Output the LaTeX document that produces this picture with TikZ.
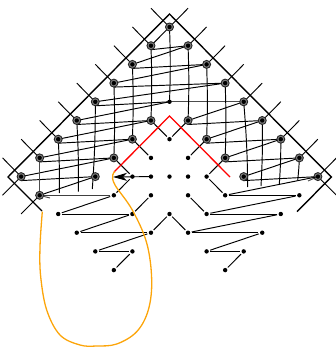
\documentclass[tikz,border=0pt]{standalone}
\usetikzlibrary{arrows.meta,backgrounds}
\definecolor{loopor}{RGB}{252,165,10}
\tikzset{
  x=1pt,y=1pt,
  plaindot/.style={circle,fill=black,inner sep=0pt,minimum size=4.4pt,outer sep=1.6pt},
  ringdot/.style={circle,draw=black!85,fill=black!50,line width=0.9pt,inner sep=0pt,minimum size=8pt,outer sep=0pt},
  strand/.style={line width=0.95pt,black},
  frame/.style={line width=1.4pt,black},
  spike/.style={line width=0.9pt,black},
  warp/.style={line width=0.95pt,black,bend left=2},
  redline/.style={line width=1.3pt,red},
  orangeline/.style={line width=1.3pt,loopor}
}
\newcommand{\gx}[1]{169.5+18.55*(#1)}
\newcommand{\gy}[1]{-27-18.7*(#1)}
\begin{document}
\begin{tikzpicture}
\useasboundingbox (0,0) rectangle (336,-347);
% spike ends on a lattice
\foreach \a/\b in {-1/-1,-2/0,-3/1,-4/2,-5/3,-6/4,-7/5,-8/6,-9/7,-9/9,-8/10,1/-1,2/0,3/1,4/2,5/3,6/4,7/5,8/6,9/7,9/9}
  {\coordinate (s\a x\b) at ({\gx{\a}},{\gy{\b}});}
% ringed crossings
\foreach \a/\b in {0/0,-1/1,-2/2,-3/3,-4/4,-5/5,-6/6,-7/7,-8/8,-7/9,1/1,2/2,3/3,4/4,5/5,6/6,7/7,8/8,-1/5,-2/6,-3/7,-4/8,1/5,2/6,3/7,4/8}
  {\node[ringdot] (p\a x\b) at ({\gx{\a}},{\gy{\b}}) {};
   \fill (p\a x\b.center) circle (2.2);}
% centre crossing of the fifth row
\node[plaindot] (p0x4) at ({\gx{0}},{\gy{4}}) {};
% plain dots
\foreach \a/\b in {0/6,-1/7,1/7,-2/8,-1/8,0/8,1/8,2/8,-3/9,-1/9,1/9,3/9,7/9,-6/10,-2/10,0/10,2/10,6/10,-5/11,-1/11,1/11,5/11,-4/12,-2/12,2/12,4/12,-3/13,3/13}
  {\node[plaindot] (p\a x\b) at ({\gx{\a}},{\gy{\b}}) {};}
% frame
\coordinate (apex) at (169.5,-14);
\coordinate (lc) at (8,-177);
\coordinate (rc) at (331.3,-177);
\coordinate (le) at (42,-211);
\coordinate (re) at (297,-211.7);
\draw[frame,line join=miter] (le) -- (lc) -- (apex) -- (rc) -- (re);
\begin{scope}[on background layer]
% spikes
\foreach \a/\b/\c/\d in {0/0/-1/-1,-1/1/-2/0,-2/2/-3/1,-3/3/-4/2,-4/4/-5/3,-5/5/-6/4,-6/6/-7/5,-7/7/-8/6,-8/8/-9/7,-8/8/-9/9,-7/9/-8/10,0/0/1/-1,1/1/2/0,2/2/3/1,3/3/4/2,4/4/5/3,5/5/6/4,6/6/7/5,7/7/8/6,8/8/9/7,8/8/9/9}
  {\draw[spike] (p\a x\b.center) -- (s\c x\d);}
% sloped weft lines, ending on centres
\foreach \a/\b/\c/\d in {-1/1/0/0,-2/2/1/1,-3/3/2/2,-4/4/3/3,-5/5/0/4,-6/6/-1/5,-7/7/-2/6,-8/8/-3/7,-7/9/-4/8,1/5/4/4,2/6/5/5,3/7/6/6,4/8/7/7}
  {\draw[strand] (p\a x\b.center) -- (p\c x\d.center);}
% nearly level weft lines: leave the left ring low, reach the right ring's centre
\foreach \a/\b/\c/\d in {-1/1/1/1,-2/2/2/2,-3/3/3/3,-4/4/0/4,-5/5/-1/5,-6/6/-2/6,-7/7/-3/7,-8/8/-4/8,1/5/5/5,2/6/6/6,3/7/7/7,4/8/8/8}
  {\draw[strand] (p\a x\b.south) -- (p\c x\d.center);}
\draw[strand,black!70] (p0x4.center) -- (p4x4.center);
% warp lines between rings
\foreach \a/\b/\c/\d in {0/0/0/4,-1/1/-1/5,-2/2/-2/6,-3/3/-3/7,1/1/1/5,2/2/2/6,3/3/3/7}
  {\draw[warp] (p\a x\b.center) to (p\c x\d.center);}
\draw[strand,black!70] (p-7x7.center) -- (p-7x9.center);
% warp lines with free ends
\coordinate (f1) at (92.3,-189);
\coordinate (f2) at (78.3,-191.7);
\coordinate (f3) at (59.3,-193);
\coordinate (f4) at (247.7,-187);
\coordinate (f5) at (261,-186);
\coordinate (f6) at (279.3,-184);
\coordinate (f7) at (297.7,-180);
\draw[warp] (p-4x4.center) to (f1);
\draw[warp] (p-5x5.center) to (f2);
\draw[warp] (p-6x6.center) to (f3);
\draw[warp] (p4x4.center) to (f4);
\draw[warp] (p5x5.center) to (f5);
\draw[warp] (p6x6.center) to (f6);
\draw[warp] (p7x7.center) to (f7);
% tails at the two bottom rings
\coordinate (t1) at (50,-198);
\coordinate (t2) at (308,-181);
\draw[strand,black!70] (p-7x9.center) -- (t1);
\draw[strand,black!70] (p8x8.center) -- (t2);
\end{scope}
% lines that reach ringed dots
\draw[strand,black!75] (p-7x9.east) -- (p-3x9);
\draw[strand] (p8x8.center) -- (p3x9);
% lower zigzags
\foreach \a/\b/\c/\d in {-6/10/-3/9,-6/10/-2/10,-5/11/-2/10,-5/11/-1/11,-4/12/-1/11,-4/12/-2/12,3/9/7/9,2/10/7/9,2/10/6/10,1/11/6/10,1/11/5/11,2/12/5/11,2/12/4/12}
  {\draw[strand] (p\a x\b) -- (p\c x\d);}
% short diagonals
\foreach \a/\b/\c/\d in {-1/5/0/6,1/5/0/6,-2/6/-1/7,2/6/1/7,-3/7/-2/8,3/7/2/8,-2/8/-3/9,2/8/3/9,-1/9/-2/10,1/9/2/10,0/10/-1/11,0/10/1/11,-2/12/-3/13,4/12/3/13}
  {\draw[strand] (p\a x\b) -- (p\c x\d);}
% red chevron
\coordinate (r1) at (114,-172);
\coordinate (r2) at (169.5,-116);
\coordinate (r3) at (230,-177);
\draw[redline] (r1) -- (r2) -- (r3);
% arrow
\coordinate (tip) at (113,-177);
\draw[strand,-{Stealth[length=14pt,width=8pt,inset=4pt]}] (p-1x8.center) -- (tip);
% orange loop
\draw[orangeline] plot[smooth,tension=0.6] coordinates {(115,-171.7) (112.7,-175) (115,-185) (132.3,-210) (146.7,-243) (151.7,-280) (148.3,-310) (136.7,-331.7) (116.7,-344) (96.7,-346) (80,-345) (60,-335) (46.7,-310) (40.7,-276.7) (40,-246.7) (42.3,-211.7)};
\end{tikzpicture}
\end{document}
